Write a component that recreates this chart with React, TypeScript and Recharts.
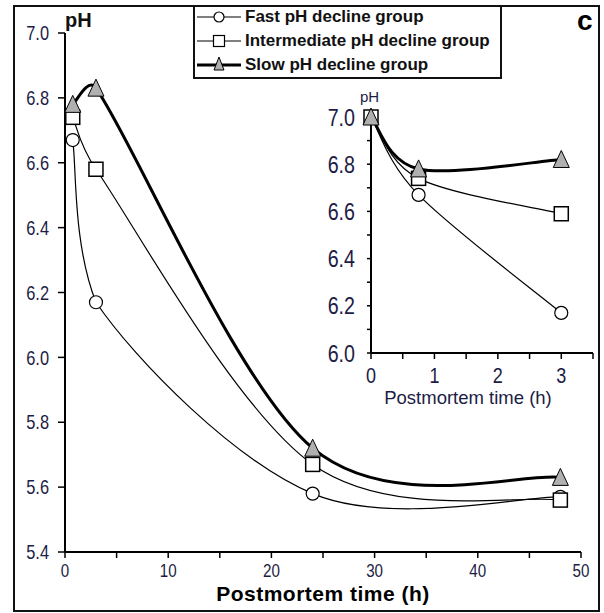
import { LineChart, Line, XAxis, YAxis, Legend, Label } from 'recharts';

// main panel: pH at 45 min, 3 h, 24 h, 48 h postmortem
const MAIN_TIME = [0.75, 3, 24, 48];
const MAIN_FAST = [6.67, 6.17, 5.58, 5.57];
const MAIN_INTER = [6.74, 6.58, 5.67, 5.56];
const MAIN_SLOW = [6.78, 6.83, 5.72, 5.63];

// inset: first 3 hours
const INSET_TIME = [0, 0.75, 3];
const INSET_FAST = [7.0, 6.67, 6.17];
const INSET_INTER = [7.0, 6.74, 6.59];
const INSET_SLOW = [7.0, 6.78, 6.82];

const MAIN_X_TICKS = [0, 5, 10, 15, 20, 25, 30, 35, 40, 45, 50];
const MAIN_Y_TICKS = [5.4, 5.6, 5.8, 6.0, 6.2, 6.4, 6.6, 6.8, 7.0];
const INSET_X_TICKS = [0, 0.5, 1, 1.5, 2, 2.5, 3, 3.5];
const INSET_Y_TICKS = [6.0, 6.1, 6.2, 6.3, 6.4, 6.5, 6.6, 6.7, 6.8, 6.9, 7.0];

const SERIES_NAMES = ['Fast pH decline group', 'Intermediate pH decline group', 'Slow pH decline group'];

const SANS = "'Liberation Sans', Arial, sans-serif";
const TICK_COLOR = '#1c1c44';
const GREY = '#b0b0b0';

const mainData = MAIN_TIME.map((t, i) => ({ t, fast: MAIN_FAST[i], inter: MAIN_INTER[i], slow: MAIN_SLOW[i] }));
const insetData = INSET_TIME.map((t, i) => ({ t, fast: INSET_FAST[i], inter: INSET_INTER[i], slow: INSET_SLOW[i] }));

// spreadsheet-style smoothing: catmull-rom bezier, handles capped at half the segment
// and kept inside the segment's x range
function smooth(context: any) {
  let pts: number[][] = [];
  const dist = (a: number[], b: number[]) => Math.hypot(b[0] - a[0], b[1] - a[1]);
  const clamp = (v: number, lo: number, hi: number) => Math.min(Math.max(v, lo), hi);
  return {
    areaStart() {},
    areaEnd() {},
    lineStart() {
      pts = [];
    },
    point(x: number, y: number) {
      pts.push([+x, +y]);
    },
    lineEnd() {
      const n = pts.length;
      if (!n) return;
      context.moveTo(pts[0][0], pts[0][1]);
      for (let i = 0; i < n - 1; i++) {
        const p0 = pts[Math.max(i - 1, 0)];
        const p1 = pts[i];
        const p2 = pts[i + 1];
        const p3 = pts[Math.min(i + 2, n - 1)];
        const d12 = dist(p1, p2);
        const d02 = dist(p0, p2);
        const d13 = dist(p1, p3);
        const f1 = d02 / 6 > d12 / 2 ? d12 / (2 * d02) : 1 / 6;
        const f2 = d13 / 6 > d12 / 2 ? d12 / (2 * d13) : 1 / 6;
        const lo = Math.min(p1[0], p2[0]);
        const hi = Math.max(p1[0], p2[0]);
        context.bezierCurveTo(
          clamp(p1[0] + (p2[0] - p0[0]) * f1, lo, hi),
          p1[1] + (p2[1] - p0[1]) * f1,
          clamp(p2[0] - (p3[0] - p1[0]) * f2, lo, hi),
          p2[1] - (p3[1] - p1[1]) * f2,
          p2[0],
          p2[1],
        );
      }
    },
  };
}

// condensed tick text (no narrow font installed, so squeeze Liberation Sans)
function narrowTick(size: number, fmt: (v: number) => string, side: 'x' | 'y') {
  return (p: any) => {
    const label = fmt(p.payload.value);
    return (
      <text
        key={p.index}
        transform={`translate(${p.x},${p.y}) scale(0.82,1)`}
        textAnchor={side === 'x' ? 'middle' : 'end'}
        dy={side === 'x' ? '0.71em' : '0.36em'}
        fontFamily={SANS}
        fontSize={size}
        fill={TICK_COLOR}
      >
        {label}
      </text>
    );
  };
}

const CircleDot = (p: any) =>
  p.cx == null ? <g key={p.key} /> : <circle key={p.key} cx={p.cx} cy={p.cy} r={6.5} fill="#fff" stroke="#000" strokeWidth={1.2} />;

const SquareDot = (p: any) =>
  p.cx == null ? <g key={p.key} /> : <rect key={p.key} x={p.cx - 7} y={p.cy - 7} width={14} height={14} fill="#fff" stroke="#000" strokeWidth={1.5} />;

const TriangleDot = (p: any) =>
  p.cx == null ? (
    <g key={p.key} />
  ) : (
    <polygon key={p.key} points={`${p.cx},${p.cy - 9} ${p.cx - 8},${p.cy + 8} ${p.cx + 8},${p.cy + 8}`} fill={GREY} stroke="#000" strokeWidth={1} />
  );

function LegendIcon({ idx }: { idx: number }) {
  return (
    <svg width={44} height={22} style={{ display: 'block' }}>
      <line x1={0} y1={11} x2={44} y2={11} stroke="#000" strokeWidth={idx === 2 ? 3 : 1.2} />
      {idx === 0 && <circle cx={22} cy={11} r={5} fill="#fff" stroke="#000" strokeWidth={1.2} />}
      {idx === 1 && <rect x={16.5} y={5.5} width={11} height={11} fill="#fff" stroke="#000" strokeWidth={1.2} />}
      {idx === 2 && <polygon points="22,3 17,16 27,16" fill={GREY} stroke="#000" strokeWidth={1} />}
    </svg>
  );
}

function LegendBox() {
  return (
    <div
      style={{
        width: 309,
        height: 74,
        boxSizing: 'border-box',
        border: '2px solid #111',
        background: '#fff',
        paddingLeft: 2,
      }}
    >
      {SERIES_NAMES.map((name, i) => (
        <div key={name} style={{ display: 'flex', alignItems: 'center', height: 24, marginTop: i === 0 ? -2 : 0 }}>
          <LegendIcon idx={i} />
          <span style={{ marginLeft: 4, fontFamily: SANS, fontWeight: 'bold', fontSize: 17, color: '#111', whiteSpace: 'nowrap' }}>
            {name}
          </span>
        </div>
      ))}
    </div>
  );
}

export default function App() {
  return (
    <div style={{ position: 'absolute', left: 0, top: 0, width: 604, height: 613, background: '#fff' }}>
      <div
        style={{
          position: 'absolute',
          left: 13,
          top: 5,
          width: 587,
          height: 607,
          boxSizing: 'border-box',
          border: '2px solid #111',
        }}
      />
      <div style={{ position: 'absolute', left: 0, top: 0 }}>
        <LineChart width={604} height={613} data={mainData} margin={{ top: 33, right: 23, bottom: 6, left: 0 }}>
          <XAxis
            dataKey="t"
            type="number"
            domain={[0, 50]}
            ticks={MAIN_X_TICKS}
            height={55}
            axisLine={{ stroke: '#000', strokeWidth: 2 }}
            tickLine={{ stroke: '#000', strokeWidth: 1.5 }}
            tickSize={6}
            tickMargin={6}
            tick={narrowTick(18.5, (v) => (v % 10 === 0 ? String(v) : ''), 'x')}
          >
            <Label
              value="Postmortem time (h)"
              position="insideBottom"
              offset={6}
              style={{ fill: '#000', fontSize: 21, fontWeight: 'bold', fontFamily: SANS, letterSpacing: 0.5 }}
            />
          </XAxis>
          <YAxis
            type="number"
            domain={[5.4, 7.0]}
            ticks={MAIN_Y_TICKS}
            width={65}
            axisLine={{ stroke: '#000', strokeWidth: 2 }}
            tickLine={{ stroke: '#000', strokeWidth: 1.5 }}
            tickSize={7}
            tickMargin={9}
            tick={narrowTick(20, (v) => v.toFixed(1), 'y')}
          />
          <Legend
            layout="vertical"
            align="center"
            verticalAlign="middle"
            wrapperStyle={{ top: 5, left: 193, width: 309, height: 74 }}
            content={() => <LegendBox />}
          />
          <Line dataKey="fast" name={SERIES_NAMES[0]} type={smooth as any} stroke="#000" strokeWidth={1.2} dot={CircleDot} activeDot={false} isAnimationActive={false} />
          <Line dataKey="inter" name={SERIES_NAMES[1]} type={smooth as any} stroke="#000" strokeWidth={1.2} dot={SquareDot} activeDot={false} isAnimationActive={false} />
          <Line dataKey="slow" name={SERIES_NAMES[2]} type={smooth as any} stroke="#000" strokeWidth={3} dot={TriangleDot} activeDot={false} isAnimationActive={false} />
        </LineChart>
      </div>
      <div style={{ position: 'absolute', left: 322, top: 85 }}>
        <LineChart width={280} height={335} data={insetData} margin={{ top: 32, right: 9, bottom: 7, left: 0 }}>
          <XAxis
            dataKey="t"
            type="number"
            domain={[0, 3.5]}
            ticks={INSET_X_TICKS}
            height={60}
            axisLine={{ stroke: '#000', strokeWidth: 2 }}
            tickLine={{ stroke: '#000', strokeWidth: 1.5 }}
            tickSize={6}
            tickMargin={8}
            tick={narrowTick(22, (v) => (Number.isInteger(v) ? String(v) : ''), 'x')}
          >
            <Label
              value="Postmortem time (h)"
              position="insideBottom"
              offset={9}
              dx={-14}
              style={{ fill: TICK_COLOR, fontSize: 18.5, fontFamily: SANS }}
            />
          </XAxis>
          <YAxis
            type="number"
            domain={[6.0, 7.0]}
            ticks={INSET_Y_TICKS}
            width={49}
            axisLine={{ stroke: '#000', strokeWidth: 2 }}
            tickLine={{ stroke: '#000', strokeWidth: 1.5 }}
            tickSize={4}
            tickMargin={12}
            tick={narrowTick(24, (v) => (Math.round(v * 10) % 2 === 0 ? v.toFixed(1) : ''), 'y')}
          />
          <Line dataKey="fast" type={smooth as any} stroke="#000" strokeWidth={1.2} dot={CircleDot} activeDot={false} isAnimationActive={false} />
          <Line dataKey="inter" type={smooth as any} stroke="#000" strokeWidth={1.2} dot={SquareDot} activeDot={false} isAnimationActive={false} />
          <Line dataKey="slow" type={smooth as any} stroke="#000" strokeWidth={3} dot={TriangleDot} activeDot={false} isAnimationActive={false} />
        </LineChart>
      </div>
      <svg width={604} height={613} style={{ position: 'absolute', left: 0, top: 0, pointerEvents: 'none' }}>
        <text x={65} y={27} fontFamily={SANS} fontWeight="bold" fontSize={20} fill="#111">pH</text>
        <text x={360} y={102} fontFamily={SANS} fontSize={15} fill={TICK_COLOR}>pH</text>
        <text x={577} y={30} fontFamily={SANS} fontWeight="bold" fontSize={28} fill="#000">c</text>
      </svg>
    </div>
  );
}
